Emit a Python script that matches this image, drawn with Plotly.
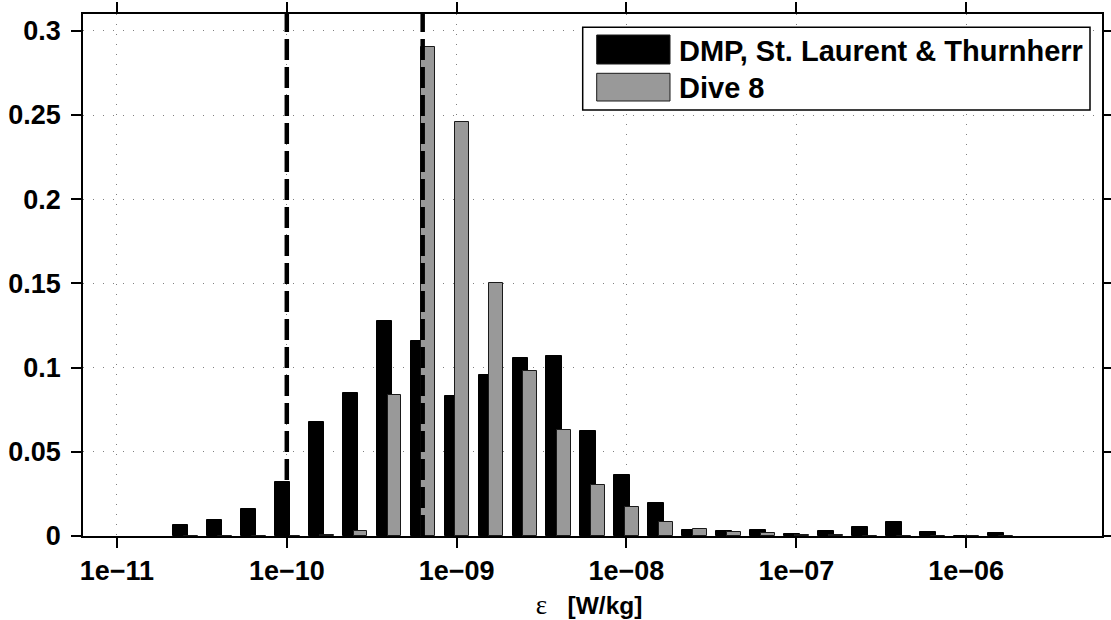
import plotly.graph_objects as go

# log10 of the bin centres of the dissipation-rate histogram
bin_exponent = [-10.6, -10.4, -10.2, -10.0, -9.8, -9.6, -9.4, -9.2, -9.0, -8.8,
                -8.6, -8.4, -8.2, -8.0, -7.8, -7.6, -7.4, -7.2, -7.0, -6.8,
                -6.6, -6.4, -6.2, -6.0, -5.8]

# fraction of samples in each bin
dmp_fraction = [0.0067, 0.0095, 0.0163, 0.0321, 0.0675, 0.0849, 0.1278, 0.1157, 0.0834, 0.0958,
                0.1055, 0.1070, 0.0623, 0.0365, 0.0198, 0.0034, 0.0030, 0.0034, 0.0012, 0.0028,
                0.0056, 0.0083, 0.0024, 0.0, 0.0016]
dive8_fraction = [0.0, 0.0, 0.0, 0.0, 0.0006, 0.0032, 0.0839, 0.2904, 0.2456, 0.1500,
                  0.0978, 0.0629, 0.0304, 0.0171, 0.0085, 0.0044, 0.0024, 0.0016, 0.0006, 0.0004,
                  0.0, 0.0, 0.0, 0.0, 0.0]

series_names = ["DMP, St. Laurent & Thurnherr", "Dive 8"]
series_colors = ["#000000", "#999999"]

# noise-floor / detection limits (log10 of epsilon)
limit_exponent = [-10.0, -9.2]

x_tick_exponent = [-11, -10, -9, -8, -7, -6]
x_tick_text = ["1e\u221211", "1e\u221210", "1e\u221209", "1e\u221208", "1e\u221207", "1e\u221206"]
y_tick_values = [0, 0.05, 0.1, 0.15, 0.2, 0.25, 0.3]
y_tick_text = ["0", "0.05", "0.1", "0.15", "0.2", "0.25", "0.3"]

SANS = "Liberation Sans, Arial, Helvetica, sans-serif"

# figure geometry (pixels)
W, H = 1111, 620
ML, MR, MT, MB = 83, 9, 14, 84
PW, PH = W - ML - MR, H - MT - MB


def paper_x(px):
    return (px - ML) / PW


def paper_y(py):
    return (H - MB - py) / PH


fig = go.Figure()
fig.add_trace(go.Bar(
    x=bin_exponent, y=dmp_fraction, name=series_names[0],
    offset=-0.071, width=0.091,
    marker=dict(color=series_colors[0], line=dict(color="#000000", width=1)),
))
fig.add_trace(go.Bar(
    x=bin_exponent, y=dive8_fraction, name=series_names[1],
    offset=-0.007, width=0.082,
    marker=dict(color=series_colors[1], line=dict(color="#1a1a1a", width=1)),
))

shapes = []
for xe in limit_exponent:
    shapes.append(dict(type="line", xref="x", yref="paper", x0=xe, x1=xe, y0=0, y1=1,
                       line=dict(color="#000000", width=4.5, dash="21px,7px"), layer="above"))

# hand-built legend box with large swatches
lx0, lx1, ly0, ly1 = 582.7, 1090, 27.3, 110
shapes.append(dict(type="rect", xref="paper", yref="paper",
                   x0=paper_x(lx0), x1=paper_x(lx1), y0=paper_y(ly1), y1=paper_y(ly0),
                   fillcolor="#ffffff", line=dict(color="#000000", width=1.5), layer="above"))
swatch_rows = [(35, 64), (73.3, 101)]
annotations = []
text_rows = [51, 88]
for (sy0, sy1), color, name, ty in zip(swatch_rows, series_colors, series_names, text_rows):
    shapes.append(dict(type="rect", xref="paper", yref="paper",
                       x0=paper_x(596.7), x1=paper_x(670), y0=paper_y(sy1), y1=paper_y(sy0),
                       fillcolor=color, line=dict(color="#1a1a1a", width=1), layer="above"))
    annotations.append(dict(xref="paper", yref="paper", x=paper_x(677), y=paper_y(ty),
                            xanchor="left", yanchor="middle", showarrow=False, text=name,
                            font=dict(family=SANS, size=29, color="#000000", weight="bold")))

tick_font = dict(family=SANS, size=27, color="#000000", weight="bold")
axis_common = dict(
    ticks="outside", ticklen=10, tickwidth=1.5, tickcolor="#000000",
    showline=True, linecolor="#000000", linewidth=1.5, mirror="allticks",
    showgrid=True, gridcolor="#808080", gridwidth=1, griddash="1px,9px",
    zeroline=False, automargin=False, tickfont=tick_font,
)

fig.update_layout(
    template="none",
    width=W, height=H,
    margin=dict(l=ML, r=MR, t=MT, b=MB, pad=0),
    paper_bgcolor="#ffffff", plot_bgcolor="#ffffff",
    barmode="overlay", bargap=0, showlegend=False,
    font=dict(family=SANS, size=26, color="#000000", weight="bold"),
    shapes=shapes, annotations=annotations,
    xaxis=dict(
        range=[-11.2, -5.2], tickmode="array", tickvals=x_tick_exponent, ticktext=x_tick_text,
        title=dict(text="<span style='font-family:Liberation Serif;font-weight:normal;font-size:27px'>\u03b5</span>&nbsp;&nbsp;&nbsp;[W/kg]&nbsp;",
                   font=dict(family=SANS, size=24.5, color="#000000", weight="bold"), standoff=12),
        **axis_common,
    ),
    yaxis=dict(
        range=[0, 0.31], tickmode="array", tickvals=y_tick_values, ticktext=y_tick_text,
        ticklabelstandoff=5,
        **axis_common,
    ),
)

fig.write_html("out.html")
